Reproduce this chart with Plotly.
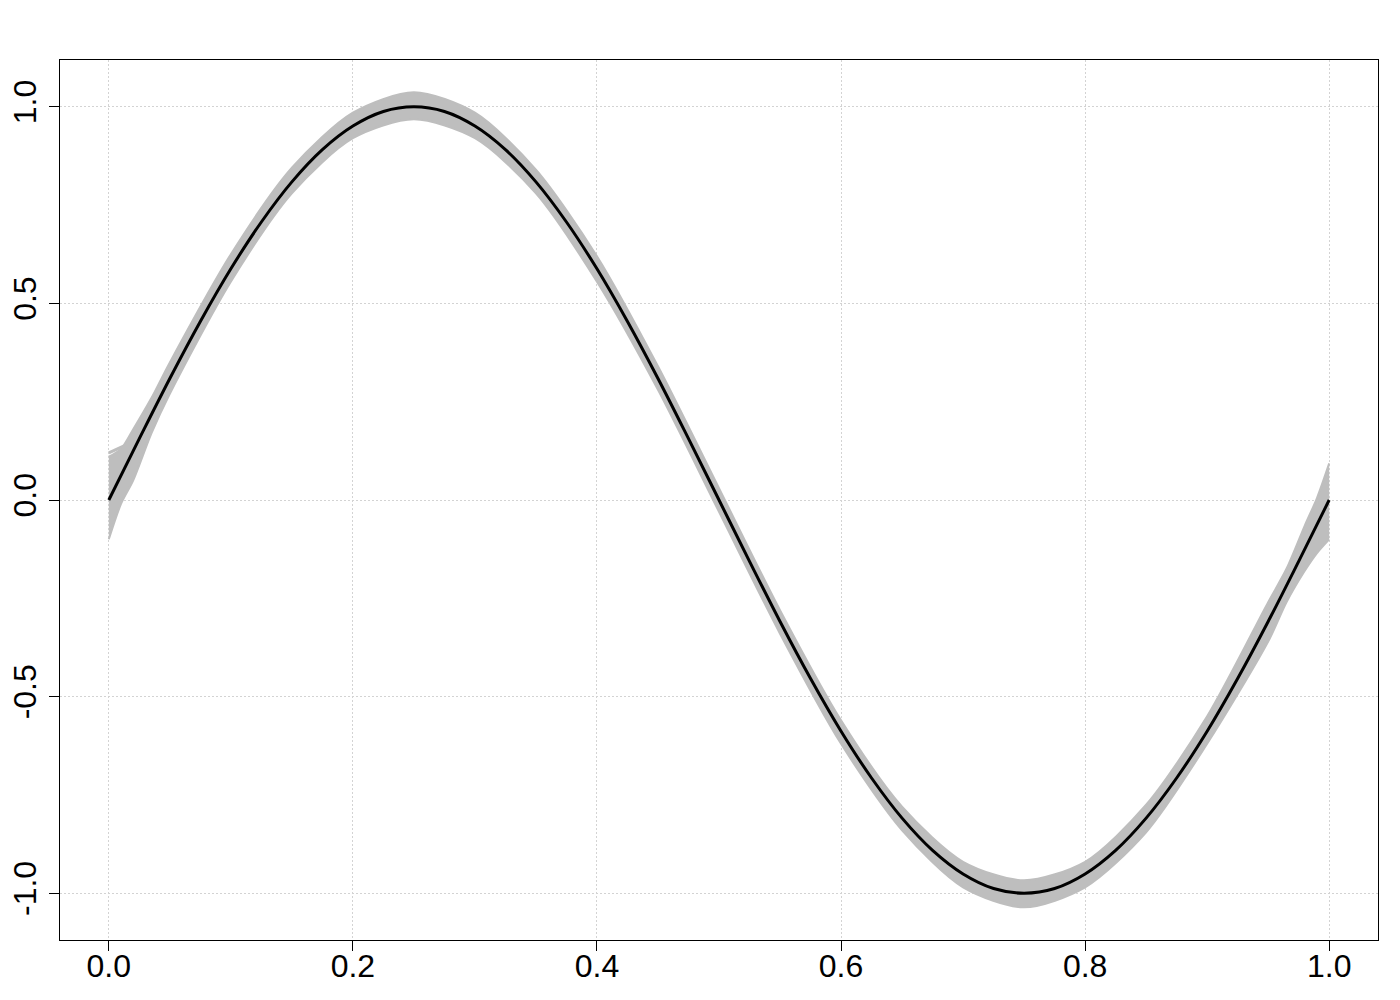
import plotly.graph_objects as go

# Central curve (black)
x_mean = [0.0, 0.025, 0.05, 0.075, 0.1, 0.125, 0.15, 0.175, 0.2, 0.225, 0.25,
          0.275, 0.3, 0.325, 0.35, 0.375, 0.4, 0.425, 0.45, 0.475, 0.5,
          0.525, 0.55, 0.575, 0.6, 0.625, 0.65, 0.675, 0.7, 0.725, 0.75,
          0.775, 0.8, 0.825, 0.85, 0.875, 0.9, 0.925, 0.95, 0.975, 1.0]
y_mean = [0.0, 0.156, 0.309, 0.454, 0.588, 0.707, 0.809, 0.891, 0.951, 0.988, 1.0,
          0.988, 0.951, 0.891, 0.809, 0.707, 0.588, 0.454, 0.309, 0.156, 0.0,
          -0.156, -0.309, -0.454, -0.588, -0.707, -0.809, -0.891, -0.951, -0.988, -1.0,
          -0.988, -0.951, -0.891, -0.809, -0.707, -0.588, -0.454, -0.309, -0.156, 0.0]

# Envelope of the grey replicate curves
x_band = [0.0, 0.01, 0.02, 0.035, 0.05, 0.1, 0.15, 0.2, 0.25, 0.3, 0.35, 0.4, 0.45,
          0.5, 0.55, 0.6, 0.65, 0.7, 0.75, 0.8, 0.85, 0.9, 0.95, 0.965, 0.98, 0.99, 1.0]
band_upper = [0.11, 0.13, 0.18, 0.26, 0.35, 0.625, 0.845, 0.985, 1.037, 0.985, 0.84, 0.62, 0.34,
              0.03, -0.28, -0.56, -0.78, -0.92, -0.967, -0.92, -0.775, -0.55, -0.26, -0.175,
              -0.065, 0.005, 0.093]
band_lower = [-0.10, -0.01, 0.05, 0.17, 0.27, 0.555, 0.78, 0.92, 0.968, 0.92, 0.78, 0.555, 0.28,
              -0.03, -0.34, -0.62, -0.84, -0.985, -1.036, -0.985, -0.845, -0.62, -0.36, -0.26,
              -0.18, -0.135, -0.10]

# Short stray grey segment near x = 0
stray_x = [0.0, 0.012]
stray_y = [0.12, 0.137]

x_ticks = [0.0, 0.2, 0.4, 0.6, 0.8, 1.0]
x_tick_text = ["0.0", "0.2", "0.4", "0.6", "0.8", "1.0"]
y_ticks = [-1.0, -0.5, 0.0, 0.5, 1.0]
y_tick_text = ["-1.0", "-0.5", "0.0", "0.5", "1.0"]

GREY = "#BEBEBE"

fig = go.Figure()
fig.add_trace(go.Scatter(x=x_band, y=band_lower, mode="lines",
                         line=dict(color=GREY, width=2, shape="spline", smoothing=0.8),
                         showlegend=False, hoverinfo="skip"))
fig.add_trace(go.Scatter(x=x_band, y=band_upper, mode="lines", fill="tonexty",
                         fillcolor=GREY,
                         line=dict(color=GREY, width=2, shape="spline", smoothing=0.8),
                         showlegend=False, hoverinfo="skip"))
fig.add_trace(go.Scatter(x=stray_x, y=stray_y, mode="lines",
                         line=dict(color=GREY, width=3),
                         showlegend=False, hoverinfo="skip"))
fig.add_trace(go.Scatter(x=x_mean, y=y_mean, mode="lines",
                         line=dict(color="black", width=3, shape="spline"),
                         showlegend=False))

axis_common = dict(
    showline=True, linecolor="black", linewidth=1, mirror=True,
    ticks="outside", ticklen=10, tickcolor="black", tickwidth=1,
    showgrid=True, gridcolor="#D3D3D3", griddash="2px,2px", gridwidth=1,
    zeroline=False, automargin=False,
    tickfont=dict(family="Liberation Sans, Arial", size=32, color="black"),
)

fig.update_xaxes(range=[-0.04, 1.04], tickvals=x_ticks, ticktext=x_tick_text,
                 ticklabelstandoff=-12, **axis_common)
fig.update_yaxes(range=[-1.119, 1.119], tickvals=y_ticks, ticktext=y_tick_text,
                 tickangle=-90, **axis_common)

# the page body adds an 8px offset; margins compensate so the plot box sits at 60..1378 x 60..940
fig.update_layout(
    width=1400, height=1000,
    margin=dict(l=52, r=30, t=52, b=68),
    paper_bgcolor="white", plot_bgcolor="white",
)

fig.write_html("out.html")
